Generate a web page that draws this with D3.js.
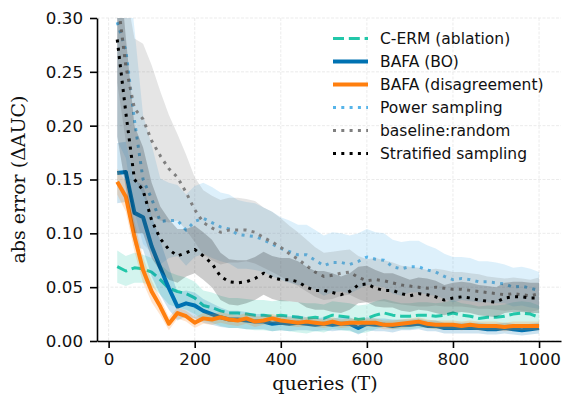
<!DOCTYPE html>
<html>
<head>
<meta charset="utf-8">
<script src="https://cdn.jsdelivr.net/npm/d3@7"></script>
<style>
    body { margin: 0; background: #fff; }
    .tick text { font-family: "DejaVu Sans", sans-serif; }
    .axis-label { font-family: "DejaVu Serif", serif; }
</style>
</head>
<body>
<div id="chart"></div>
<script>
var WIDTH = 564,
    HEIGHT = 401;

var margin = {top: 18, right: 3, bottom: 60, left: 97};

// queries (T): 20, 40, ..., 1000
var queries = [20, 40, 60, 80, 100, 120, 140, 160, 180, 200,
    220, 240, 260, 280, 300, 320, 340, 360, 380, 400,
    420, 440, 460, 480, 500, 520, 540, 560, 580, 600,
    620, 640, 660, 680, 700, 720, 740, 760, 780, 800,
    820, 840, 860, 880, 900, 920, 940, 960, 980, 1000];

var cermMean = [0.069, 0.065, 0.068, 0.067, 0.064, 0.057, 0.049, 0.046, 0.044, 0.040,
    0.033, 0.031, 0.028, 0.026, 0.026, 0.025, 0.024, 0.024, 0.023, 0.024,
    0.023, 0.022, 0.021, 0.022, 0.021, 0.024, 0.023, 0.022, 0.020, 0.021,
    0.024, 0.026, 0.024, 0.023, 0.023, 0.024, 0.024, 0.023, 0.024, 0.026,
    0.024, 0.023, 0.021, 0.022, 0.022, 0.023, 0.025, 0.026, 0.025, 0.022];
var cermSpread = [0.015, 0.014, 0.014, 0.013, 0.013, 0.014, 0.015, 0.015, 0.015, 0.015,
    0.014, 0.014, 0.014, 0.014, 0.014, 0.014, 0.014, 0.014, 0.014, 0.014,
    0.014, 0.014, 0.014, 0.013, 0.013, 0.013, 0.013, 0.013, 0.013, 0.013,
    0.013, 0.013, 0.013, 0.012, 0.012, 0.012, 0.012, 0.012, 0.012, 0.012,
    0.011, 0.011, 0.011, 0.011, 0.011, 0.011, 0.011, 0.011, 0.011, 0.011];

var boMean = [0.156, 0.157, 0.119, 0.115, 0.088, 0.068, 0.049, 0.032, 0.035, 0.033,
    0.028, 0.025, 0.022, 0.020, 0.020, 0.019, 0.018, 0.018, 0.016, 0.017,
    0.016, 0.017, 0.016, 0.015, 0.016, 0.015, 0.016, 0.016, 0.012, 0.016,
    0.015, 0.015, 0.014, 0.015, 0.015, 0.016, 0.014, 0.014, 0.012, 0.012,
    0.012, 0.012, 0.012, 0.011, 0.011, 0.012, 0.011, 0.010, 0.011, 0.012];
var boSpread = [0.028, 0.028, 0.030, 0.030, 0.028, 0.025, 0.020, 0.013, 0.012, 0.012,
    0.011, 0.010, 0.009, 0.008, 0.008, 0.008, 0.007, 0.007, 0.007, 0.007,
    0.007, 0.007, 0.006, 0.006, 0.006, 0.006, 0.006, 0.006, 0.006, 0.006,
    0.006, 0.006, 0.006, 0.005, 0.005, 0.005, 0.005, 0.005, 0.005, 0.005,
    0.005, 0.005, 0.005, 0.005, 0.005, 0.005, 0.005, 0.005, 0.005, 0.005];

var disMean = [0.148, 0.134, 0.097, 0.066, 0.046, 0.032, 0.016, 0.026, 0.023, 0.017,
    0.021, 0.020, 0.022, 0.020, 0.019, 0.021, 0.018, 0.019, 0.021, 0.019,
    0.018, 0.017, 0.018, 0.017, 0.016, 0.018, 0.016, 0.017, 0.017, 0.017,
    0.017, 0.015, 0.015, 0.016, 0.017, 0.018, 0.016, 0.015, 0.015, 0.015,
    0.014, 0.015, 0.014, 0.014, 0.014, 0.013, 0.014, 0.014, 0.014, 0.014];
var disSpread = [0.012, 0.014, 0.014, 0.012, 0.010, 0.008, 0.006, 0.005, 0.005, 0.005,
    0.005, 0.005, 0.005, 0.005, 0.005, 0.005, 0.005, 0.004, 0.004, 0.004,
    0.004, 0.004, 0.004, 0.004, 0.004, 0.004, 0.004, 0.004, 0.004, 0.004,
    0.004, 0.004, 0.004, 0.004, 0.004, 0.004, 0.004, 0.004, 0.004, 0.004,
    0.004, 0.004, 0.004, 0.004, 0.004, 0.004, 0.004, 0.004, 0.004, 0.004];

var powerMean = [0.296, 0.270, 0.205, 0.150, 0.132, 0.111, 0.112, 0.112, 0.103, 0.111,
    0.114, 0.110, 0.106, 0.104, 0.099, 0.098, 0.097, 0.094, 0.090, 0.086,
    0.083, 0.080, 0.080, 0.075, 0.070, 0.073, 0.073, 0.071, 0.074, 0.078,
    0.076, 0.075, 0.069, 0.067, 0.069, 0.069, 0.066, 0.064, 0.060, 0.057,
    0.058, 0.057, 0.055, 0.055, 0.054, 0.053, 0.050, 0.051, 0.049, 0.047];
var powerSpread = [0.110, 0.100, 0.085, 0.060, 0.050, 0.040, 0.035, 0.033, 0.033, 0.033,
    0.033, 0.033, 0.032, 0.032, 0.032, 0.031, 0.031, 0.030, 0.030, 0.029,
    0.029, 0.028, 0.028, 0.028, 0.028, 0.028, 0.027, 0.027, 0.026, 0.026,
    0.025, 0.025, 0.025, 0.025, 0.024, 0.024, 0.023, 0.022, 0.021, 0.021,
    0.020, 0.020, 0.019, 0.019, 0.019, 0.018, 0.018, 0.018, 0.018, 0.017];

var randomMean = [0.320, 0.255, 0.216, 0.206, 0.186, 0.172, 0.160, 0.152, 0.138, 0.122,
    0.110, 0.105, 0.101, 0.103, 0.103, 0.103, 0.101, 0.096, 0.092, 0.087,
    0.081, 0.076, 0.070, 0.064, 0.060, 0.061, 0.063, 0.064, 0.059, 0.056,
    0.057, 0.056, 0.054, 0.052, 0.051, 0.050, 0.049, 0.050, 0.049, 0.048,
    0.048, 0.047, 0.046, 0.045, 0.044, 0.043, 0.044, 0.043, 0.042, 0.044];
var randomSpread = [0.080, 0.070, 0.065, 0.070, 0.070, 0.060, 0.050, 0.040, 0.035, 0.030,
    0.030, 0.030, 0.030, 0.030, 0.030, 0.029, 0.029, 0.028, 0.028, 0.027,
    0.026, 0.025, 0.024, 0.023, 0.022, 0.022, 0.021, 0.021, 0.020, 0.020,
    0.020, 0.019, 0.019, 0.018, 0.018, 0.018, 0.017, 0.017, 0.017, 0.016,
    0.016, 0.016, 0.016, 0.015, 0.015, 0.015, 0.015, 0.015, 0.015, 0.015];

var stratMean = [0.280, 0.212, 0.150, 0.140, 0.112, 0.095, 0.085, 0.079, 0.082, 0.085,
    0.079, 0.072, 0.060, 0.055, 0.054, 0.055, 0.058, 0.063, 0.059, 0.057,
    0.057, 0.055, 0.050, 0.047, 0.047, 0.045, 0.043, 0.046, 0.052, 0.053,
    0.049, 0.047, 0.047, 0.044, 0.042, 0.044, 0.043, 0.041, 0.038, 0.040,
    0.041, 0.040, 0.038, 0.037, 0.036, 0.040, 0.041, 0.041, 0.040, 0.040];
var stratSpread = [0.090, 0.070, 0.050, 0.040, 0.035, 0.030, 0.028, 0.025, 0.022, 0.022,
    0.022, 0.022, 0.022, 0.021, 0.021, 0.020, 0.020, 0.020, 0.020, 0.020,
    0.020, 0.019, 0.019, 0.018, 0.018, 0.018, 0.017, 0.017, 0.017, 0.017,
    0.017, 0.016, 0.016, 0.016, 0.015, 0.015, 0.015, 0.015, 0.014, 0.014,
    0.014, 0.014, 0.014, 0.014, 0.014, 0.014, 0.014, 0.014, 0.014, 0.014];

var seriesNames = ["C-ERM (ablation)", "BAFA (BO)", "BAFA (disagreement)",
    "Power sampling", "baseline:random", "Stratified sampling"];

var xTicks = [0, 200, 400, 600, 800, 1000];
var yTicks = [0.00, 0.05, 0.10, 0.15, 0.20, 0.25, 0.30];

var series = [
    {name: seriesNames[0], mean: cermMean, spread: cermSpread, color: "#22c7a9", width: 3, dash: "11,4.8"},
    {name: seriesNames[1], mean: boMean, spread: boSpread, color: "#0072b2", width: 4, dash: null},
    {name: seriesNames[2], mean: disMean, spread: disSpread, color: "#ff7f0e", width: 4, dash: null},
    {name: seriesNames[3], mean: powerMean, spread: powerSpread, color: "#56b4e9", width: 3, dash: "3,5.3"},
    {name: seriesNames[4], mean: randomMean, spread: randomSpread, color: "#7f7f7f", width: 3, dash: "3,5.3"},
    {name: seriesNames[5], mean: stratMean, spread: stratSpread, color: "#000000", width: 3, dash: "3,5.3"}
];

var innerW = WIDTH - margin.left - margin.right,
    innerH = HEIGHT - margin.top - margin.bottom;

var x = d3.scaleLinear().domain([-27, 1051]).range([0, innerW]);
var y = d3.scaleLinear().domain([0, 0.30]).range([innerH, 0]);

var svg = d3.select("#chart")
    .append("svg")
    .attr("width", WIDTH)
    .attr("height", HEIGHT);

var g = svg.append("g")
    .attr("transform", "translate(" + margin.left + "," + margin.top + ")");

g.append("clipPath")
    .attr("id", "plot-clip")
    .append("rect")
    .attr("width", innerW)
    .attr("height", innerH);

// grid
g.append("g")
    .selectAll("line")
    .data(xTicks)
    .enter().append("line")
    .attr("x1", function (d) { return x(d); })
    .attr("x2", function (d) { return x(d); })
    .attr("y1", 0)
    .attr("y2", innerH)
    .attr("stroke", "#e6e6e6")
    .attr("stroke-width", 0.8)
    .attr("stroke-dasharray", "3,1.5");

g.append("g")
    .selectAll("line")
    .data(yTicks)
    .enter().append("line")
    .attr("x1", 0)
    .attr("x2", innerW)
    .attr("y1", function (d) { return y(d); })
    .attr("y2", function (d) { return y(d); })
    .attr("stroke", "#e6e6e6")
    .attr("stroke-width", 0.8)
    .attr("stroke-dasharray", "3,1.5");

var plot = g.append("g").attr("clip-path", "url(#plot-clip)");

var area = d3.area()
    .x(function (d, i) { return x(queries[i]); })
    .y0(function (d) { return y(d[0] - d[1]); })
    .y1(function (d) { return y(d[0] + d[1]); });

var line = d3.line()
    .x(function (d, i) { return x(queries[i]); })
    .y(function (d) { return y(d); });

series.forEach(function (s) {
    var band = s.mean.map(function (m, i) { return [m, s.spread[i]]; });

    plot.append("path")
        .datum(band)
        .attr("d", area)
        .attr("fill", s.color)
        .attr("fill-opacity", 0.2)
        .attr("stroke", "none");

    plot.append("path")
        .datum(s.mean)
        .attr("d", line)
        .attr("fill", "none")
        .attr("stroke", s.color)
        .attr("stroke-width", s.width)
        .attr("stroke-dasharray", s.dash)
        .attr("stroke-linejoin", "round");
});

// axes
var xAxis = g.append("g")
    .attr("transform", "translate(0," + innerH + ")")
    .call(d3.axisBottom(x).tickValues(xTicks).tickFormat(d3.format("d"))
        .tickSize(7).tickPadding(5).tickSizeOuter(0));

var yAxis = g.append("g")
    .call(d3.axisLeft(y).tickValues(yTicks).tickFormat(d3.format(".2f"))
        .tickSize(7).tickPadding(7).tickSizeOuter(0));

[xAxis, yAxis].forEach(function (ax) {
    ax.select(".domain").attr("stroke", "#000").attr("stroke-width", 1.6);
    ax.selectAll(".tick line").attr("stroke", "#000").attr("stroke-width", 1.6);
    ax.selectAll(".tick text").attr("fill", "#111").attr("font-size", "16.7px");
});

g.append("text")
    .attr("class", "axis-label")
    .attr("x", innerW / 2 - 4)
    .attr("y", innerH + 49)
    .attr("text-anchor", "middle")
    .attr("font-size", "19px")
    .attr("fill", "#111")
    .text("queries (T)");

g.append("text")
    .attr("class", "axis-label")
    .attr("transform", "translate(" + (-72) + "," + (innerH / 2) + ") rotate(-90)")
    .attr("text-anchor", "middle")
    .attr("font-size", "19px")
    .attr("fill", "#111")
    .text("abs error (\u0394AUC)");

// legend
var legend = svg.append("g")
    .attr("transform", "translate(333,38.5)");

var legendItem = legend.selectAll(".legend-item")
    .data(series)
    .enter().append("g")
    .attr("class", "legend-item")
    .attr("transform", function (d, i) {
        return "translate(0," + (i * 23) + ")";
    });

legendItem.append("line")
    .attr("x1", 0)
    .attr("x2", 35)
    .attr("stroke", function (d) { return d.color; })
    .attr("stroke-width", function (d) { return d.width; })
    .attr("stroke-dasharray", function (d) { return d.dash; });

legendItem.append("text")
    .attr("x", 47)
    .attr("dy", "0.35em")
    .attr("font-family", "DejaVu Sans, sans-serif")
    .attr("font-size", "15.5px")
    .attr("fill", "#111")
    .text(function (d) { return d.name; });
</script>
</body>
</html>
